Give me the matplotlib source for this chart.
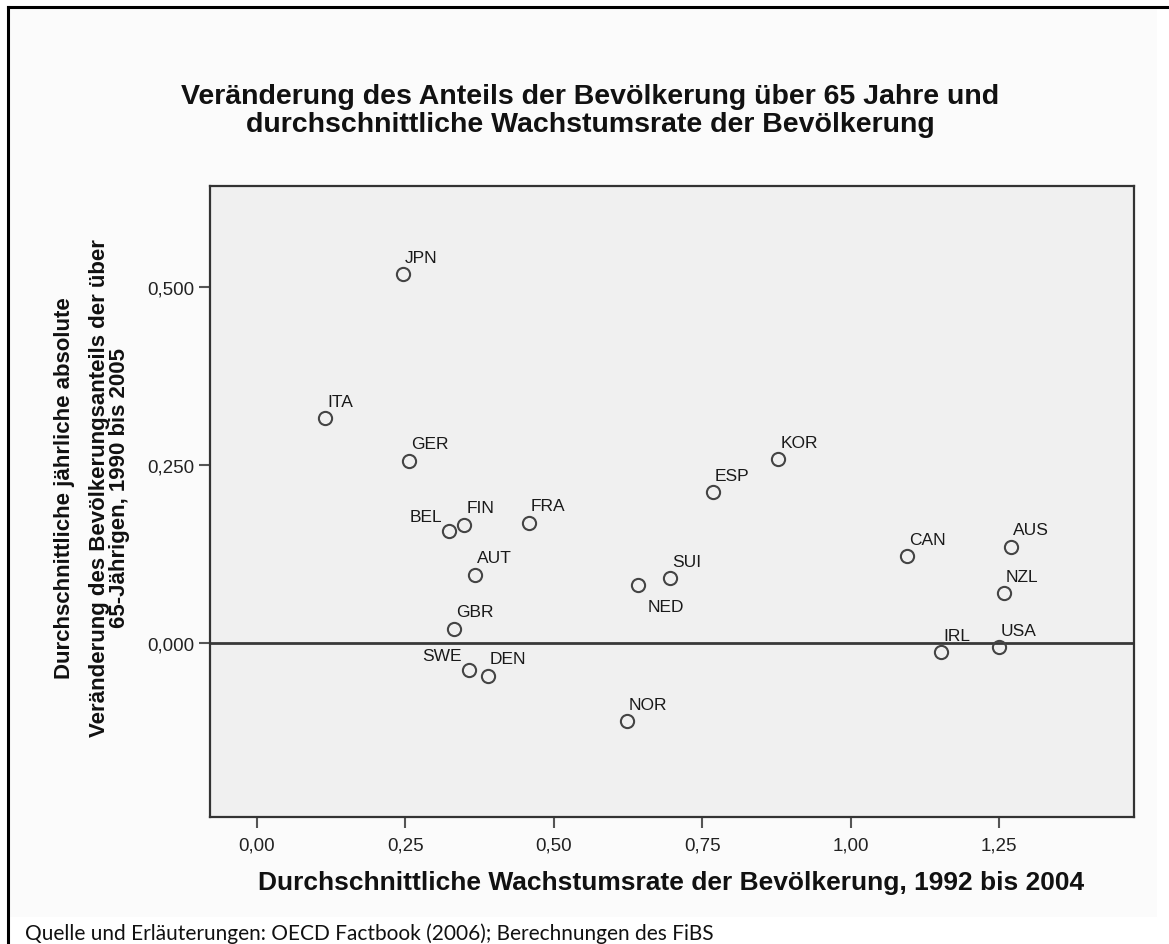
import matplotlib
matplotlib.use("Agg")
import matplotlib.pyplot as plt
from matplotlib.lines import Line2D
from matplotlib.patches import Rectangle
from matplotlib.ticker import FuncFormatter

# data
countries = ["JPN", "ITA", "GER", "BEL", "FIN", "FRA", "AUT", "GBR", "SWE", "DEN",
             "NOR", "NED", "SUI", "ESP", "KOR", "CAN", "AUS", "NZL", "IRL", "USA"]
growth = [0.246, 0.115, 0.256, 0.324, 0.349, 0.458, 0.367, 0.332, 0.357, 0.389,
          0.623, 0.642, 0.696, 0.768, 0.878, 1.095, 1.270, 1.258, 1.152, 1.250]
change65 = [0.518, 0.316, 0.256, 0.157, 0.166, 0.169, 0.096, 0.020, -0.038, -0.046,
            -0.110, 0.081, 0.091, 0.212, 0.258, 0.122, 0.135, 0.070, -0.013, -0.006]
xticks = [0.0, 0.25, 0.5, 0.75, 1.0, 1.25]
yticks = [0.0, 0.25, 0.5]

title = ("Veränderung des Anteils der Bevölkerung über 65 Jahre und\n"
         "durchschnittliche Wachstumsrate der Bevölkerung")
xlabel = "Durchschnittliche Wachstumsrate der Bevölkerung, 1992 bis 2004"
ylabel_lines = ["Durchschnittliche jährliche absolute",
                "Veränderung des Bevölkerungsanteils der über",
                "65-Jährigen, 1990 bis 2005"]
source = "Quelle und Erläuterungen: OECD Factbook (2006); Berechnungen des FiBS"

W, H = 1169, 945
plt.rcParams["font.family"] = ["Liberation Sans", "DejaVu Sans"]

fig = plt.figure(figsize=(W / 100, H / 100), dpi=100, facecolor="white")
# chart background (slightly off-white) and outer frame (left + top only)
fig.patches.append(Rectangle((8 / W, 1 - 918 / H), (1157 - 8) / W, (918 - 8) / H,
                             transform=fig.transFigure, facecolor="#fbfbfb",
                             edgecolor="none", zorder=-10))
fig.lines.append(Line2D([7.5 / W, 7.5 / W], [0, 1 - 7.5 / H], transform=fig.transFigure,
                        color="black", lw=2.2, solid_capstyle="projecting"))
fig.lines.append(Line2D([7.5 / W, 1], [1 - 7.5 / H, 1 - 7.5 / H], transform=fig.transFigure,
                        color="black", lw=2.2, solid_capstyle="projecting"))

ax = fig.add_axes([210 / W, 1 - 818 / H, (1134 - 210) / W, (818 - 187) / H])
ax.set_facecolor("#f0f0f0")
ax.set_xlim(-0.0792, 1.4774)
ax.set_ylim(-0.2444, 0.6419)

ax.axhline(0, color="#383838", lw=2.0, zorder=1)
ax.plot(growth, change65, linestyle="none", marker="o", markersize=9.5,
        markerfacecolor="none", markeredgecolor="#444444", markeredgewidth=1.5, zorder=3)

left_labels = {"BEL", "SWE"}
below_labels = {"NED"}
for name, x, y in zip(countries, growth, change65):
    if name in left_labels:
        ax.annotate(name, (x, y), xytext=(-5, 7.5), textcoords="offset points",
                    ha="right", va="baseline", fontsize=12.5, color="#1a1a1a")
    elif name in below_labels:
        ax.annotate(name, (x, y), xytext=(7, -9.5), textcoords="offset points",
                    ha="left", va="top", fontsize=12.5, color="#1a1a1a")
    else:
        ax.annotate(name, (x, y), xytext=(1.5, 9), textcoords="offset points",
                    ha="left", va="baseline", fontsize=12.5, color="#1a1a1a")

ax.set_xticks(xticks)
ax.set_yticks(yticks)
ax.xaxis.set_major_formatter(FuncFormatter(lambda v, p: f"{v:.2f}".replace(".", ",")))
ax.yaxis.set_major_formatter(FuncFormatter(lambda v, p: f"{v:.3f}".replace(".", ",")))
ax.tick_params(axis="both", direction="out", length=8, width=1.5, color="#555555",
               labelsize=13.5, labelcolor="#222222")
ax.tick_params(axis="x", pad=6)
ax.tick_params(axis="y", pad=3.5)
for s in ax.spines.values():
    s.set_color("#333333")
    s.set_linewidth(1.6)

fig.text(590 / W, 1 - 111 / H, title, ha="center", va="center", fontsize=20.5,
         fontweight="bold", linespacing=1.1, color="#111111")
fig.text(671 / W, 1 - 883 / H, xlabel, ha="center", va="center", fontsize=19,
         fontweight="bold", color="#111111")
for xpos, line in zip([65, 99.5, 119.5], ylabel_lines):
    fig.text(xpos / W, 1 - 488 / H, line, rotation=90, ha="center", va="center",
             fontsize=16, fontweight="bold", color="#111111")
fig.text(25 / W, 5 / H, source, ha="left", va="baseline", fontsize=15,
         family=["Lato", "DejaVu Sans"], color="#111111")

fig.savefig("out.png", dpi=100, facecolor=fig.get_facecolor())
